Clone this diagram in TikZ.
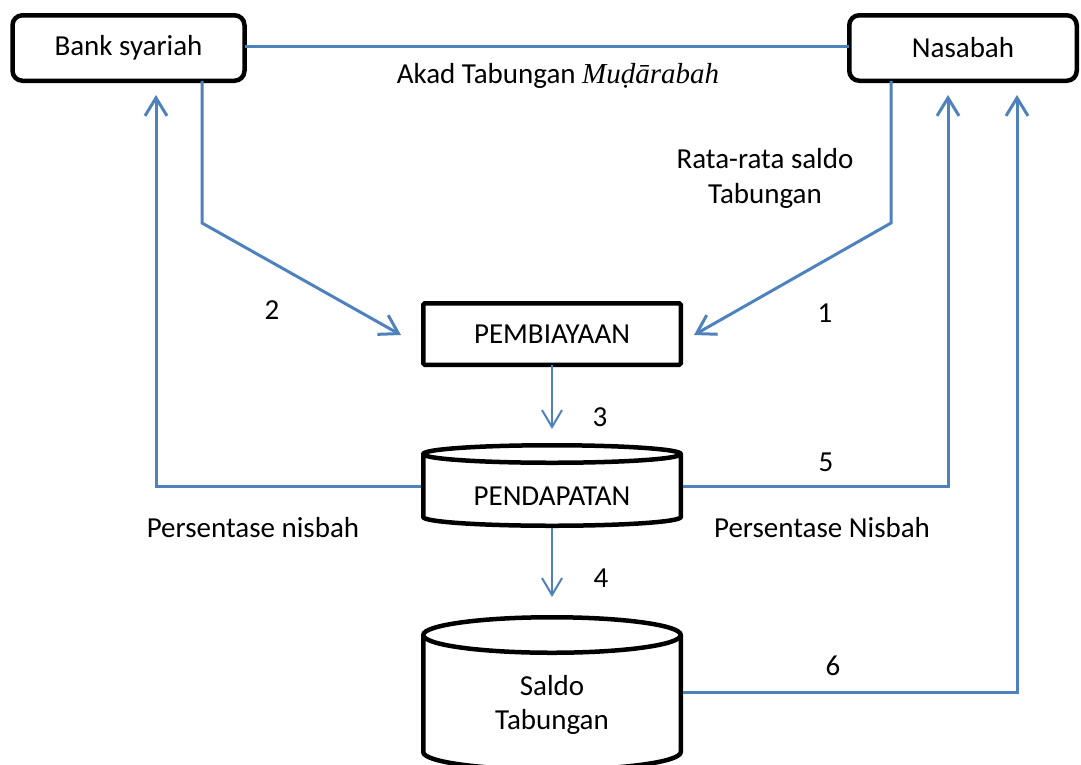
\documentclass[tikz,border=0pt]{standalone}
\usepackage{fontspec}
\setmainfont{Carlito}
\newfontfamily\serifit{Liberation Serif}
\usetikzlibrary{arrows.meta,calc}
\definecolor{lblue}{RGB}{79,129,189}
\begin{document}
\begin{tikzpicture}[x=1pt,y=-1pt,
  every node/.style={font=\fontsize{29}{34.5}\selectfont, inner sep=0pt, outer sep=0pt},
  actor/.style={draw=black, line width=4.5pt, rounded corners=10pt, fill=white, minimum height=65.5pt},
  procbox/.style={draw=black, line width=4.5pt, rounded corners=1.5pt, fill=white, minimum width=257.5pt, minimum height=61.5pt},
  cylbody/.style={draw=black, line width=4.5pt, fill=white},
  conn/.style={draw=lblue, line width=3pt, -{Straight Barb[length=18pt,width=22pt]}},
  plainconn/.style={draw=lblue, line width=3pt},
  thinconn/.style={draw=lblue, line width=2pt, -{Straight Barb[length=17pt,width=20pt]}},
  lbl/.style={align=center}
]
\useasboundingbox (0,0) rectangle (1081,764);
\clip (0,0) rectangle (1081,764);

% actors
\node[actor, minimum width=232pt] (bank) at (128.5,48) {Bank syariah};
\node[actor, minimum width=227.5pt] (nas) at (963,48) {Nasabah};

% process box
\node[procbox] (pemb) at (552,334) {PEMBIAYAAN};

% PENDAPATAN cylinder
\path[cylbody] (423.25,454) -- (423.25,517)
  arc[start angle=180, end angle=360, x radius=128.75pt, y radius=8.75pt]
  -- (680.75,454)
  arc[start angle=0, end angle=180, x radius=128.75pt, y radius=8.75pt] -- cycle;
\draw[black, line width=4.5pt] (423.25,454)
  arc[start angle=180, end angle=360, x radius=128.75pt, y radius=8.75pt];
\node[minimum width=262pt, minimum height=63pt] (pendbody) at (552,486) {};
\node[anchor=base] (pendtext) at (552,505) {PENDAPATAN};
\coordinate (pendbot) at (552,528);

% Saldo Tabungan cylinder
\path[cylbody] (423.25,635) -- (423.25,752)
  arc[start angle=180, end angle=360, x radius=128.75pt, y radius=17.75pt]
  -- (680.75,635)
  arc[start angle=0, end angle=180, x radius=128.75pt, y radius=17.75pt] -- cycle;
\draw[black, line width=4.5pt] (423.25,635)
  arc[start angle=180, end angle=360, x radius=128.75pt, y radius=17.75pt];
\node[minimum width=262pt, minimum height=114pt] (saldobody) at (552,692) {};
\node[lbl] (saldotext) at (552,705) {Saldo\\Tabungan};

% coordinates
\coordinate (bk1) at (202,223);
\coordinate (t2) at (401,335);
\coordinate (nk1) at (891,223);
\coordinate (t1) at (694,335);
\coordinate (t3) at (552,429);
\coordinate (t4) at (552,597);
\coordinate (l1) at (156,486);
\coordinate (t5) at (156,95);
\coordinate (r1) at (948,486);
\coordinate (t6) at (948,95);
\coordinate (s1) at (1017,692);
\coordinate (t7) at (1017,95);

% connectors
\draw[plainconn] ([yshift=2pt]bank.east) -- ([yshift=2pt]nas.west);
\draw[conn] (bank.south -| bk1) -- (bk1) -- (t2);
\draw[conn] (nas.south -| nk1) -- (nk1) -- (t1);
\draw[thinconn] (pemb.south) -- (t3);
\draw[thinconn] (pendbot) -- (t4);
\draw[conn] (pendbody.west) -- (l1) -- (t5);
\draw[conn] (pendbody.east) -- (r1) -- (t6);
\draw[conn] (saldobody.east) -- (s1) -- (t7);

% labels
\node[anchor=base] (akad) at (558,83) {Akad Tabungan {\serifit\itshape Muḍārabah}};
\node[lbl] (rata) at (765,178.5) {Rata-rata saldo\\Tabungan};
\node[anchor=base] (n2) at (272,319) {2};
\node[anchor=base] (n1) at (825,322) {1};
\node[anchor=base] (n3) at (600,426) {3};
\node[anchor=base] (n5) at (826,471) {5};
\node[anchor=base] (n4) at (601,587) {4};
\node[anchor=base] (n6) at (833,675) {6};
\node[anchor=base] (pnl) at (253,537) {Persentase nisbah};
\node[anchor=base] (pnr) at (822,537) {Persentase Nisbah};
\end{tikzpicture}
\end{document}
